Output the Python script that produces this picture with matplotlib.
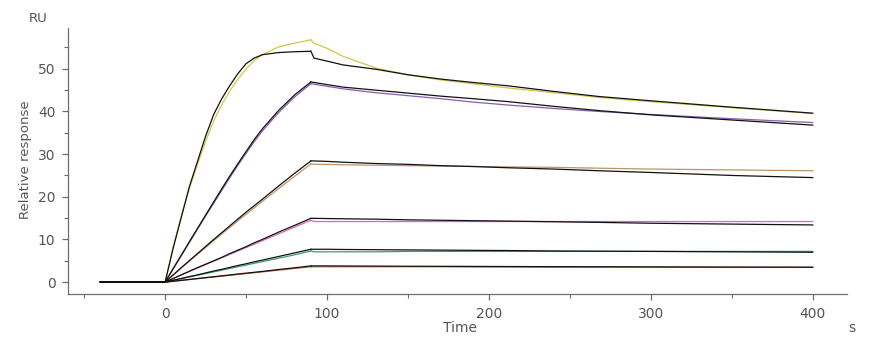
import matplotlib
matplotlib.use("Agg")
import matplotlib.pyplot as plt
from matplotlib.ticker import MultipleLocator

# ── Sensorgram data ──────────────────────────────────────────────────────────
# association phase (0-90 s), with a flat baseline from -40 s
t_assoc = [-40, 0, 5, 10, 15, 20, 25, 30, 35, 40, 45, 50, 55, 60, 70, 80, 90]
# dissociation phase (90-400 s)
t_dissoc = [90, 92, 100, 110, 130, 150, 170, 190, 212, 240, 268, 300, 350, 400]

# measured curves
yellow_a = [0, 0, 8.3, 15.5, 22.0, 27.6, 33.0, 37.8, 41.6, 44.8, 47.6, 50.0, 51.9, 53.3, 55.1, 56.0, 56.8]
yellow_d = [56.8, 56.0, 54.8, 52.9, 50.2, 48.6, 47.4, 46.5, 45.5, 44.4, 43.3, 42.3, 40.9, 39.5]
purple_a = [0, 0, 3.1, 6.2, 9.3, 12.4, 15.5, 18.5, 21.5, 24.5, 27.4, 30.2, 32.9, 35.4, 39.7, 43.4, 46.5]
purple_d = [46.5, 46.4, 45.9, 45.3, 44.4, 43.7, 43.0, 42.2, 41.5, 40.7, 40.0, 39.3, 38.3, 37.4]
tan_a = [0, 0, 1.65, 3.3, 4.9, 6.5, 8.1, 9.7, 11.3, 12.8, 14.4, 15.9, 17.4, 18.9, 21.9, 24.8, 27.7]
tan_d = [27.7, 27.6, 27.6, 27.5, 27.4, 27.3, 27.2, 27.1, 27.0, 26.9, 26.7, 26.5, 26.3, 26.1]
pink_a = [0, 0, 0.8, 1.7, 2.5, 3.3, 4.1, 4.9, 5.7, 6.5, 7.3, 8.1, 8.9, 9.7, 11.3, 12.9, 14.5]
pink_d = [14.5, 14.2, 14.2, 14.2, 14.2, 14.2, 14.2, 14.2, 14.2, 14.2, 14.2, 14.2, 14.2, 14.2]
green_a = [0, 0, 0.4, 0.8, 1.2, 1.6, 2.0, 2.4, 2.8, 3.2, 3.6, 4.0, 4.4, 4.8, 5.6, 6.4, 7.3]
green_d = [7.3, 7.1, 7.1, 7.1, 7.1, 7.2, 7.2, 7.2, 7.2, 7.2, 7.2, 7.2, 7.2, 7.2]
orange_a = [0, 0, 0.2, 0.4, 0.6, 0.8, 1.0, 1.2, 1.4, 1.6, 1.8, 2.0, 2.2, 2.4, 2.8, 3.2, 3.6]
orange_d = [3.6, 3.6, 3.6, 3.6, 3.6, 3.6, 3.6, 3.55, 3.55, 3.5, 3.5, 3.5, 3.45, 3.45]

# fitted curves (black)
fit1_a = [0, 0, 8.0, 15.2, 22.4, 28.3, 34.2, 39.3, 43.0, 46.1, 48.9, 51.2, 52.5, 53.3, 53.8, 54.0, 54.1]
fit1_d = [54.1, 52.5, 51.8, 50.9, 49.9, 48.6, 47.6, 46.8, 46.0, 44.7, 43.5, 42.5, 41.0, 39.6]
fit2_a = [0, 0, 3.2, 6.3, 9.5, 12.6, 15.7, 18.8, 21.9, 24.9, 27.8, 30.6, 33.4, 35.9, 40.2, 43.9, 46.9]
fit2_d = [46.9, 46.8, 46.3, 45.7, 45.0, 44.3, 43.6, 43.0, 42.3, 41.2, 40.2, 39.2, 38.0, 36.8]
fit3_a = [0, 0, 1.7, 3.4, 5.05, 6.7, 8.35, 10.0, 11.6, 13.2, 14.8, 16.4, 17.9, 19.4, 22.5, 25.5, 28.4]
fit3_d = [28.4, 28.4, 28.3, 28.1, 27.8, 27.6, 27.3, 27.1, 26.8, 26.5, 26.1, 25.7, 25.0, 24.5]
fit4_a = [0, 0, 0.85, 1.7, 2.55, 3.4, 4.2, 5.0, 5.8, 6.7, 7.5, 8.3, 9.2, 10.0, 11.7, 13.3, 14.95]
fit4_d = [14.95, 14.95, 14.9, 14.85, 14.75, 14.6, 14.5, 14.4, 14.3, 14.15, 14.0, 13.8, 13.6, 13.4]
fit5_a = [0, 0, 0.43, 0.86, 1.3, 1.7, 2.15, 2.6, 3.0, 3.45, 3.9, 4.3, 4.75, 5.15, 6.0, 6.85, 7.7]
fit5_d = [7.7, 7.7, 7.7, 7.65, 7.6, 7.55, 7.5, 7.45, 7.4, 7.3, 7.25, 7.2, 7.1, 7.0]
fit6_a = [0, 0, 0.21, 0.42, 0.63, 0.84, 1.05, 1.26, 1.47, 1.68, 1.9, 2.1, 2.3, 2.5, 2.95, 3.35, 3.8]
fit6_d = [3.8, 3.8, 3.8, 3.78, 3.75, 3.72, 3.7, 3.68, 3.65, 3.62, 3.6, 3.57, 3.53, 3.5]

measured = [
    (yellow_a, yellow_d, "#d2c64a"),
    (purple_a, purple_d, "#8c5cac"),
    (tan_a, tan_d, "#bc9468"),
    (pink_a, pink_d, "#d46cb4"),
    (green_a, green_d, "#3c9a7a"),
    (orange_a, orange_d, "#c8623e"),
]
fits = [(fit1_a, fit1_d), (fit2_a, fit2_d), (fit3_a, fit3_d),
        (fit4_a, fit4_d), (fit5_a, fit5_d), (fit6_a, fit6_d)]

TXT = "#555555"
AX = "#6e6e6e"

fig = plt.figure(figsize=(8.76, 3.48), dpi=100)
ax = fig.add_axes([0.0776, 0.155, 0.889, 0.765])

for a, d, c in measured:
    ax.plot(t_assoc, a, color=c, lw=0.9)
    ax.plot(t_dissoc, d, color=c, lw=0.9)
for a, d in fits:
    ax.plot(t_assoc, a, color="#111111", lw=0.9)
    ax.plot(t_dissoc, d, color="#111111", lw=0.9)

ax.set_xlim(-60, 421)
ax.set_ylim(-2.8, 59.6)
ax.xaxis.set_major_locator(MultipleLocator(100))
ax.xaxis.set_minor_locator(MultipleLocator(50))
ax.yaxis.set_major_locator(MultipleLocator(10))
ax.yaxis.set_minor_locator(MultipleLocator(5))

for s in ("top", "right"):
    ax.spines[s].set_visible(False)
for s in ("left", "bottom"):
    ax.spines[s].set_color(AX)
    ax.spines[s].set_linewidth(0.9)
ax.tick_params(which="major", length=4, width=0.9, color=AX,
               labelcolor=TXT, labelsize=10, pad=5)
ax.tick_params(which="minor", length=3, width=0.8, color=AX)

fig.text(0.043, 0.948, "RU", color=TXT, fontsize=9.5, ha="center", va="center")
fig.text(0.029, 0.54, "Relative response", color=TXT, fontsize=9.5,
         rotation=90, ha="center", va="center")
fig.text(0.525, 0.057, "Time", color=TXT, fontsize=10, ha="center", va="center")
fig.text(0.972, 0.057, "s", color=TXT, fontsize=10, ha="center", va="center")

fig.savefig("out.png", dpi=100)
